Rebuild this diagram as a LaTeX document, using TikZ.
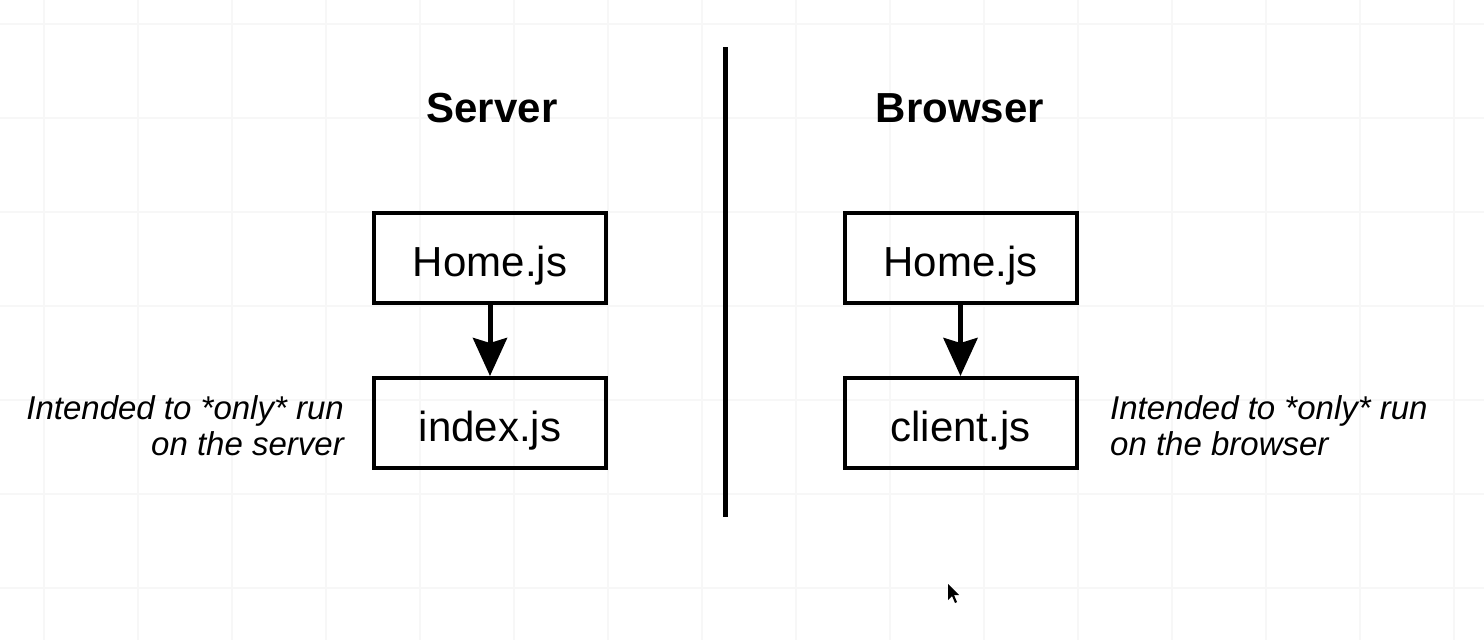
\documentclass[tikz,border=0pt]{standalone}
\usepackage{fontspec}
\setmainfont{Liberation Sans}
\usetikzlibrary{arrows.meta}
\begin{document}
\begin{tikzpicture}[x=1pt,y=-1pt,
  filebox/.style={draw=black,line width=4pt,minimum width=232pt,minimum height=90pt,inner sep=0pt,text height=36pt,text depth=0pt,font=\fontsize{42}{50}\selectfont},
  title/.style={font=\fontsize{42}{50}\selectfont\bfseries},
  note/.style={font=\fontsize{33}{36}\selectfont\itshape,inner sep=0pt},
  flow/.style={line width=5pt,-{Stealth[length=38pt,width=34pt,inset=5pt]}},
  gridline/.style={draw=black!3,line width=1.2pt}]
\useasboundingbox (0,0) rectangle (1484,640);
\fill[white] (0,0) rectangle (1484,640);
% faint background grid
\foreach \gx in {44,138,...,1484} {\draw[gridline] (\gx,0) -- (\gx,640);}
\foreach \gy in {24,118,...,640} {\draw[gridline] (0,\gy) -- (1484,\gy);}
% divider
\coordinate (divtop) at (725,47);
\coordinate (divbot) at (725,517);
\draw[line width=5pt] (divtop) -- (divbot);
% titles
\node[title] (server) at (492,108) {Server};
\node[title] (browser) at (960,108) {Browser};
% boxes
\node[filebox] (shome) at (490,258) {Home.js};
\node[filebox] (sindex) at (490,423) {index.js};
\node[filebox] (bhome) at (960.5,258) {Home.js};
\node[filebox] (bclient) at (960.5,423) {client.js};
% arrows
\draw[flow] (shome.south) -- (sindex.north);
\draw[flow] (bhome.south) -- (bclient.north);
% notes
\node[note,anchor=east,align=right] (snote) at (344,426) {Intended to *only* run\\on the server};
\node[note,anchor=west,align=left] (bnote) at (1110,426) {Intended to *only* run\\on the browser};
% mouse cursor
\fill[black] (948,584) -- (948,600) -- (952,596) -- (955,603) -- (957,602) -- (954,595) -- (959,595) -- cycle;
\end{tikzpicture}
\end{document}
